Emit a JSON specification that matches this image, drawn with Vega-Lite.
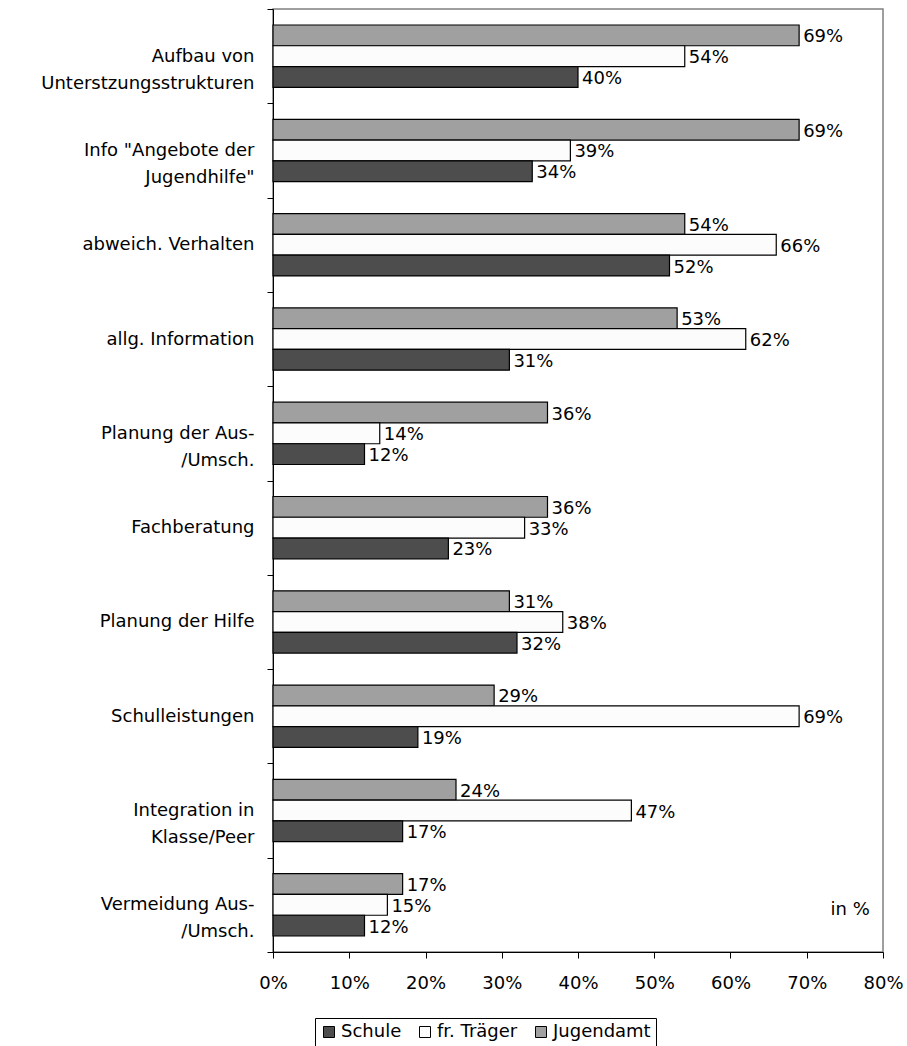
{
  "$schema": "https://vega.github.io/schema/vega-lite/v6.json",
  "width": 610,
  "height": 943,
  "autosize": {"type": "none"},
  "padding": {"left": 273, "top": 9, "right": 24, "bottom": 94},
  "background": "white",
  "config": {
    "font": "DejaVu Sans",
    "view": {"stroke": "#808080", "strokeWidth": 1.5}
  },
  "data": {
    "values": [
      {"category": "Aufbau von\nUnterstzungsstrukturen", "group": "Jugendamt", "value": 0.69},
      {"category": "Aufbau von\nUnterstzungsstrukturen", "group": "fr. Träger", "value": 0.54},
      {"category": "Aufbau von\nUnterstzungsstrukturen", "group": "Schule", "value": 0.40},
      {"category": "Info \"Angebote der\nJugendhilfe\"", "group": "Jugendamt", "value": 0.69},
      {"category": "Info \"Angebote der\nJugendhilfe\"", "group": "fr. Träger", "value": 0.39},
      {"category": "Info \"Angebote der\nJugendhilfe\"", "group": "Schule", "value": 0.34},
      {"category": "abweich. Verhalten", "group": "Jugendamt", "value": 0.54},
      {"category": "abweich. Verhalten", "group": "fr. Träger", "value": 0.66},
      {"category": "abweich. Verhalten", "group": "Schule", "value": 0.52},
      {"category": "allg. Information", "group": "Jugendamt", "value": 0.53},
      {"category": "allg. Information", "group": "fr. Träger", "value": 0.62},
      {"category": "allg. Information", "group": "Schule", "value": 0.31},
      {"category": "Planung der Aus-\n/Umsch.", "group": "Jugendamt", "value": 0.36},
      {"category": "Planung der Aus-\n/Umsch.", "group": "fr. Träger", "value": 0.14},
      {"category": "Planung der Aus-\n/Umsch.", "group": "Schule", "value": 0.12},
      {"category": "Fachberatung", "group": "Jugendamt", "value": 0.36},
      {"category": "Fachberatung", "group": "fr. Träger", "value": 0.33},
      {"category": "Fachberatung", "group": "Schule", "value": 0.23},
      {"category": "Planung der Hilfe", "group": "Jugendamt", "value": 0.31},
      {"category": "Planung der Hilfe", "group": "fr. Träger", "value": 0.38},
      {"category": "Planung der Hilfe", "group": "Schule", "value": 0.32},
      {"category": "Schulleistungen", "group": "Jugendamt", "value": 0.29},
      {"category": "Schulleistungen", "group": "fr. Träger", "value": 0.69},
      {"category": "Schulleistungen", "group": "Schule", "value": 0.19},
      {"category": "Integration in\nKlasse/Peer", "group": "Jugendamt", "value": 0.24},
      {"category": "Integration in\nKlasse/Peer", "group": "fr. Träger", "value": 0.47},
      {"category": "Integration in\nKlasse/Peer", "group": "Schule", "value": 0.17},
      {"category": "Vermeidung Aus-\n/Umsch.", "group": "Jugendamt", "value": 0.17},
      {"category": "Vermeidung Aus-\n/Umsch.", "group": "fr. Träger", "value": 0.15},
      {"category": "Vermeidung Aus-\n/Umsch.", "group": "Schule", "value": 0.12}
    ]
  },
  "encoding": {
    "y": {
      "field": "category", "type": "nominal", "sort": null,
      "scale": {"paddingInner": 0, "paddingOuter": 0},
      "axis": {
        "title": null, "tickBand": "extent", "tickSize": 6, "labelPadding": 13,
        "labelFontSize": 18, "labelColor": "black", "labelLineHeight": 27,
        "labelExpr": "split(datum.label, '\\n')", "domainColor": "black", "tickColor": "black",
        "labelBaseline": "middle", "labelLimit": 0, "grid": false, "labelOverlap": false
      }
    },
    "yOffset": {
      "field": "group", "type": "nominal", "sort": ["Jugendamt", "fr. Träger", "Schule"],
      "scale": {"paddingInner": 0, "paddingOuter": 0.77}
    }
  },
  "layer": [
    {
      "mark": {"type": "bar", "stroke": "black", "strokeWidth": 1.2, "opacity": 1},
      "encoding": {
        "x": {
          "field": "value", "type": "quantitative",
          "scale": {"domain": [0, 0.8], "nice": false},
          "axis": {
            "title": null, "format": ".0%", "values": [0, 0.1, 0.2, 0.3, 0.4, 0.5, 0.6, 0.7, 0.8],
            "grid": false, "tickSize": 6, "labelPadding": 16, "labelFontSize": 18, "labelColor": "black",
            "domainColor": "black", "tickColor": "black", "labelFlush": false, "labelOverlap": false
          }
        },
        "color": {
          "field": "group", "type": "nominal",
          "scale": {"domain": ["Schule", "fr. Träger", "Jugendamt"], "range": ["#4d4d4d", "#fcfcfc", "#a0a0a0"]},
          "legend": {
            "title": null, "orient": "none", "legendX": 42, "legendY": 1009, "direction": "horizontal",
            "strokeColor": "black", "padding": 5, "symbolType": "square", "symbolSize": 121,
            "symbolStrokeColor": "black", "symbolStrokeWidth": 1, "labelFontSize": 18, "labelColor": "black",
            "columnPadding": 14, "symbolOpacity": 1, "labelOffset": 3
          }
        }
      }
    },
    {
      "mark": {"type": "text", "align": "left", "dx": 4, "dy": 2, "baseline": "middle", "fontSize": 18, "color": "black"},
      "encoding": {
        "x": {"field": "value", "type": "quantitative"},
        "text": {"field": "value", "format": ".0%"}
      }
    },
    {
      "data": {"values": [{"category": "Vermeidung Aus-\n/Umsch.", "group": "fr. Träger", "t": "in %"}]},
      "mark": {"type": "text", "align": "center", "baseline": "middle", "dy": 5, "fontSize": 18, "color": "black"},
      "encoding": {
        "x": {"datum": 0.757},
        "text": {"field": "t"}
      }
    }
  ]
}
